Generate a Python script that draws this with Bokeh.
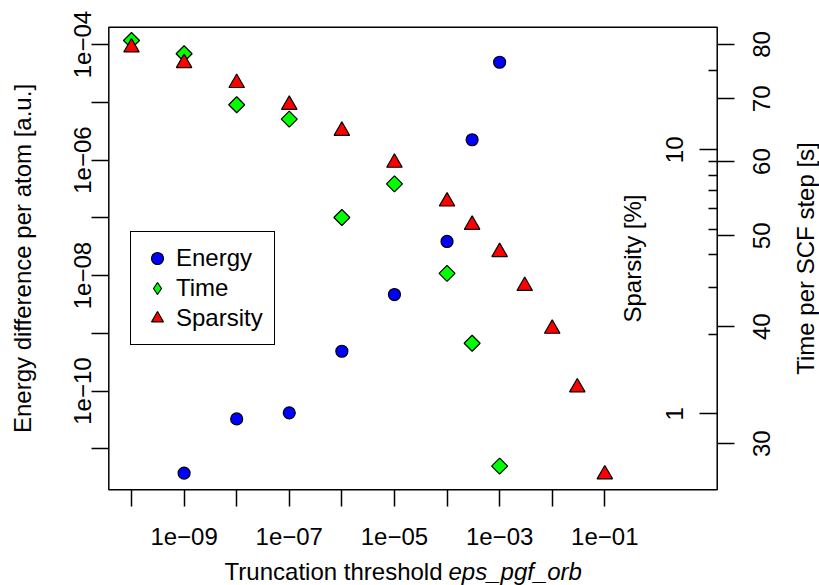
import math

from bokeh.embed import file_html
from bokeh.models import (BoxAnnotation, CustomJSTickFormatter, FixedTicker,
                          Label, Legend, LegendItem, LogAxis, LogScale, Range1d)
from bokeh.plotting import figure
from bokeh.resources import INLINE

# ---- data -----------------------------------------------------------------
# truncation threshold eps_pgf_orb for each series
energy_eps = [1e-9, 1e-8, 1e-7, 1e-6, 1e-5, 1e-4, 3e-4, 1e-3]
energy_diff = [3.8e-12, 3.3e-11, 4.2e-11, 4.9e-10, 4.7e-9, 3.9e-8, 2.25e-6, 4.95e-5]

time_eps = [1e-10, 1e-9, 1e-8, 1e-7, 1e-6, 1e-5, 1e-4, 3e-4, 1e-3]
time_scf = [80.8, 78.2, 69.0, 66.6, 52.3, 56.8, 45.6, 38.4, 28.4]

sparsity_eps = [1e-10, 1e-9, 1e-8, 1e-7, 1e-6, 1e-5, 1e-4, 3e-4, 1e-3,
                3e-3, 1e-2, 3e-2, 1e-1]
sparsity_pct = [24.4, 21.3, 17.9, 14.8, 11.8, 8.93, 6.37, 5.20, 4.10,
                3.05, 2.10, 1.26, 0.59]

# ---- ticks ----------------------------------------------------------------
x_major = [1e-9, 1e-7, 1e-5, 1e-3, 1e-1]
x_minor = [1e-10, 1e-8, 1e-6, 1e-4, 1e-2]
energy_major = [1e-4, 1e-6, 1e-8, 1e-10]
energy_minor = [1e-5, 1e-7, 1e-9, 1e-11]
time_ticks = [30, 40, 50, 60, 70, 80]
sparsity_major = [1, 10]
sparsity_minor = [2, 3, 4, 5, 6, 7, 8, 9, 20]

# ---- limits (log10) -------------------------------------------------------
# the plotting box ...
x_box = (-10.4316, 1.1372)
energy_box = (-11.709, -3.6987)
# ... and the whole canvas, which also holds the margins with the scales
x_view = (-12.491, 3.0823)
energy_view = (-13.3662, -3.2364)
time_view = (1.32591, 1.95004)
sparsity_view = (-0.64976, 1.56531)

W, H = 819, 585
FONT = "Liberation Sans"
FSIZE = "24px"
LW = 1.5

p = figure(
    width=W, height=H,
    x_axis_type="log", y_axis_type="log",
    x_axis_location=None, y_axis_location=None,
    x_range=Range1d(10 ** x_view[0], 10 ** x_view[1]),
    y_range=Range1d(10 ** energy_view[0], 10 ** energy_view[1]),
    min_border=0, min_border_left=0, min_border_right=0,
    min_border_top=0, min_border_bottom=0,
    toolbar_location=None, output_backend="svg",
)
p.extra_y_ranges = {
    "time": Range1d(10 ** time_view[0], 10 ** time_view[1]),
    "sparsity": Range1d(10 ** sparsity_view[0], 10 ** sparsity_view[1]),
}
p.extra_y_scales = {"time": LogScale(), "sparsity": LogScale()}

p.grid.visible = False
p.background_fill_color = "white"
p.border_fill_color = "white"
p.outline_line_color = None

x_left, x_right = 10 ** x_box[0], 10 ** x_box[1]
e_bottom, e_top = 10 ** energy_box[0], 10 ** energy_box[1]

# plotting box
p.add_layout(BoxAnnotation(left=x_left, right=x_right, bottom=e_bottom,
                           top=e_top, fill_color=None, fill_alpha=0,
                           line_color="black", line_alpha=1.0,
                           line_width=LW, level="underlay"))

sci = CustomJSTickFormatter(code="""
const e = Math.round(Math.log10(tick));
const d = String(Math.abs(e)).padStart(2, "0");
return "1e" + (e < 0 ? "\\u2212" : "+") + d;
""")
plain = CustomJSTickFormatter(code="return String(Math.round(tick));")


def make_axis(side, loc, ticks, minor, fmt, out_len, minor_len, standoff,
              in_len=0, **kw):
    ax = LogAxis(fixed_location=loc, **kw)
    ax.ticker = FixedTicker(ticks=ticks, minor_ticks=minor)
    ax.formatter = fmt
    ax.axis_line_color = None
    ax.major_tick_out = out_len
    ax.major_tick_in = in_len
    ax.minor_tick_out = minor_len
    ax.minor_tick_in = 0
    ax.major_tick_line_color = "black"
    ax.minor_tick_line_color = "black"
    ax.major_tick_line_width = LW
    ax.minor_tick_line_width = LW
    ax.major_label_text_font = FONT
    ax.major_label_text_font_size = FSIZE
    ax.major_label_text_color = "black"
    ax.major_label_standoff = standoff
    if side == "left":
        ax.major_label_orientation = "parallel"
    p.add_layout(ax, side)
    return ax


# bottom: truncation threshold, on the lower edge of the box
make_axis("below", e_bottom, x_major, x_minor, sci, 17, 17, 21)
# left: energy difference, on the left edge of the box
make_axis("left", x_left, energy_major, energy_minor, sci, 17, 17, 1)
# sparsity: on the right edge of the box, ticks and numbers inside
make_axis("left", x_right, sparsity_major, sparsity_minor, plain, 18, 9, 16,
          y_range_name="sparsity")
# time per SCF step: on the right edge of the box, ticks and numbers outside
make_axis("left", x_right, time_ticks, [], plain, 0, 0, -53, in_len=17,
          y_range_name="time")

# ---- markers --------------------------------------------------------------
r_e = p.scatter(energy_eps, energy_diff, marker="circle", size=12,
                fill_color="#0000FF", line_color="black", line_width=1.2)
r_t = p.scatter(time_eps, time_scf, marker="square", angle=math.pi / 4,
                size=11.3, fill_color="#00FF00", line_color="black",
                line_width=1.2, y_range_name="time")
r_s = p.scatter(sparsity_eps, sparsity_pct, marker="triangle", size=15.5,
                fill_color="#FF0000", line_color="black", line_width=1.2,
                y_range_name="sparsity")

# diamond swatch for the time series in the key (not drawn in the plot)
time_key = p.scatter(time_eps, time_scf, marker="diamond", size=16,
                     fill_color="#00FF00", line_color="black", line_width=1.2,
                     y_range_name="time", visible=False)

legend = Legend(
    items=[LegendItem(label="Energy", renderers=[r_e]),
           LegendItem(label="Time", renderers=[time_key]),
           LegendItem(label="Sparsity", renderers=[r_s])],
    location=(130, 240), padding=11, spacing=0, margin=0,
    glyph_width=30, glyph_height=30, label_height=29, label_standoff=4,
    label_text_font=FONT, label_text_font_size=FSIZE,
    label_text_color="black",
    border_line_color="black", border_line_alpha=1.0, border_line_width=1.2,
    background_fill_color="white", background_fill_alpha=1,
    inactive_fill_alpha=0,
)
p.add_layout(legend)


# ---- axis titles (screen position, measured from the lower left corner) ----
def title(text, x, y, angle=0.0, align="center", style="normal"):
    p.add_layout(Label(
        x=x, y=y, x_units="screen", y_units="screen", text=text,
        angle=angle, text_align=align, text_baseline="middle",
        text_font=FONT, text_font_size=FSIZE, text_font_style=style,
        text_color="black"))


mid_y = H - 258
title("Truncation threshold", 442, H - 571, align="right")
title("eps_pgf_orb", 448, H - 571, align="left", style="italic")
title("Energy difference per atom [a.u.]", 22, mid_y, angle=math.pi / 2)
title("Sparsity [%]", 632, mid_y, angle=math.pi / 2)
title("Time per SCF step [s]", 805, mid_y, angle=math.pi / 2)

open("out.html", "w").write(file_html(p, INLINE))
